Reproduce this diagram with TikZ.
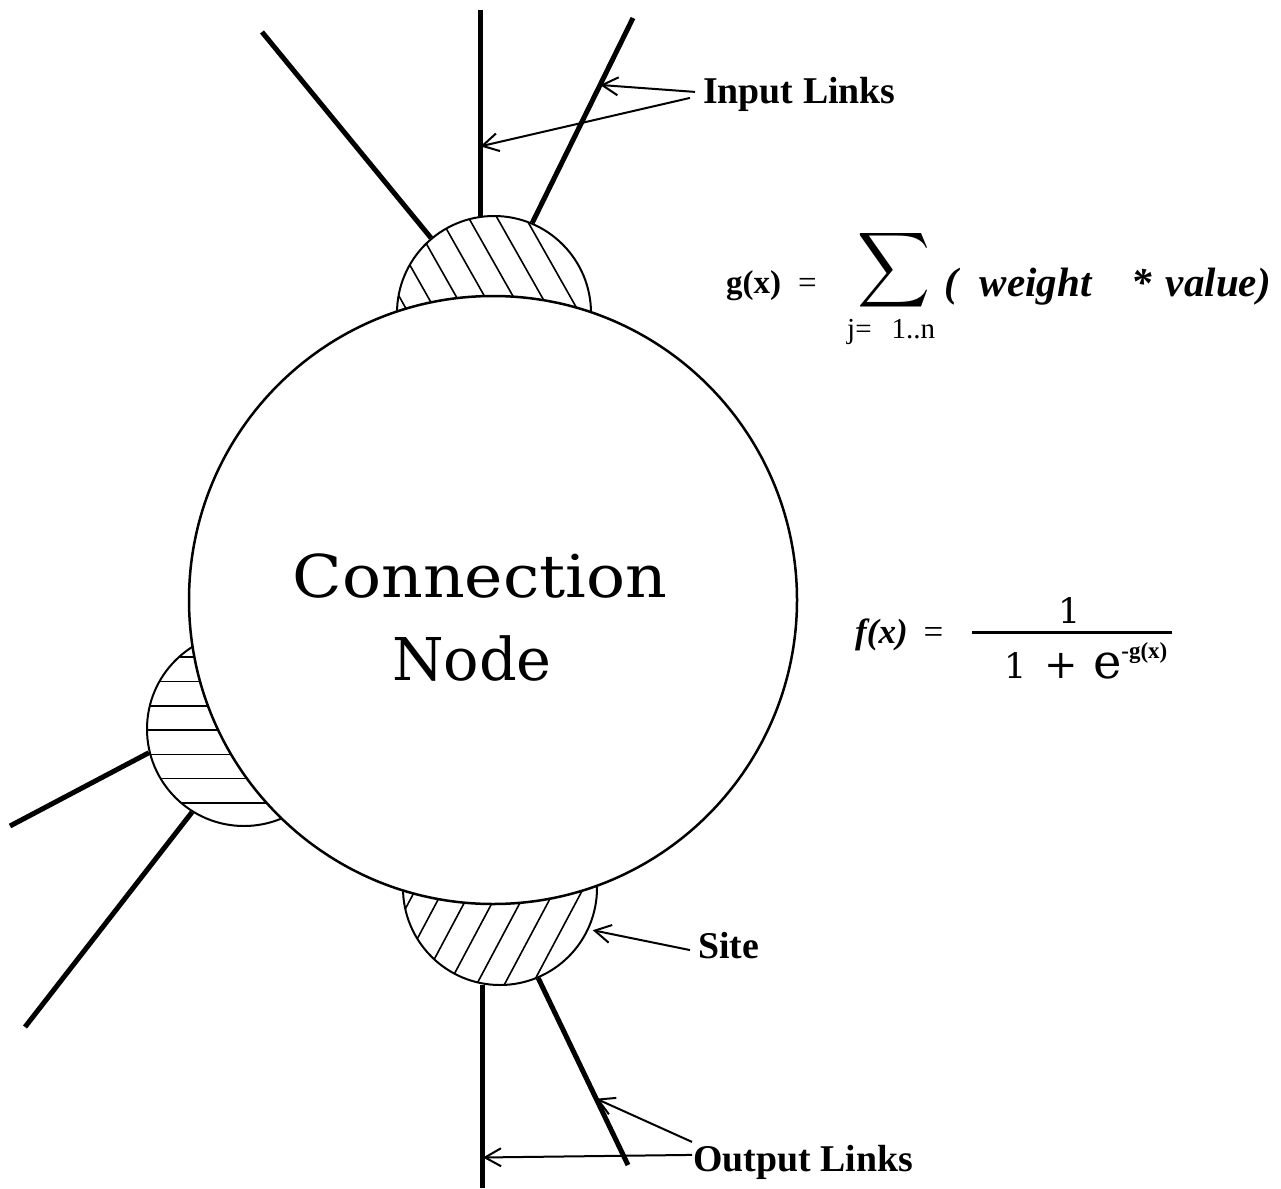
\documentclass[tikz,border=0pt]{standalone}
\usepackage{fontspec}
\usepackage{graphicx}
\usetikzlibrary{arrows.meta,calc}
\setmainfont{Latin Modern Roman}
\newfontfamily\labelfont{Liberation Serif}
\newfontfamily\bigfont{DejaVu Serif}
\begin{document}
\begin{tikzpicture}[x=1pt,y=-1pt,
  link/.style={line width=5pt},
  sitecirc/.style={circle,draw,line width=2pt,minimum size=194pt,inner sep=0pt},
  maincirc/.style={circle,draw,fill=white,line width=2.5pt,minimum size=608pt,inner sep=0pt},
  hatch/.style={line width=1.6pt},
  arr/.style={line width=2pt,-{Straight Barb[length=16pt,width=18pt,line width=2pt]}},
  lab/.style={font=\labelfont\bfseries\fontsize{37.8}{40}\selectfont,inner sep=0pt,anchor=base west},
  bigtext/.style={font=\bigfont\fontsize{59}{64}\selectfont,inner sep=0pt,anchor=base},
  frm/.style={inner sep=0pt,anchor=base west},
]
\useasboundingbox (0,0) rectangle (1281,1188);
\path[fill=white] (0,0) rectangle (1281,1188);

% site circles
\node[sitecirc] (stop) at (494,313) {};
\node[sitecirc] (sleft) at (244,729) {};
\node[sitecirc] (sbot) at (500,888) {};

% hatching of the sites
\begin{scope}[shift={(stop.center)},rotate=-60.5]
  \clip (0,0) circle[radius=97];
  \foreach \k in {-5,...,5} \draw[hatch] (-120,\k*24.8) -- (120,\k*24.8);
\end{scope}
\begin{scope}[shift={(sleft.center)}]
  \clip (0,0) circle[radius=97];
  \foreach \k in {-5,...,5} \draw[hatch] (-120,\k*24.3+1) -- (120,\k*24.3+1);
\end{scope}
\begin{scope}[shift={(sbot.center)},rotate=62]
  \clip (0,0) circle[radius=97];
  \foreach \k in {-5,...,5} \draw[hatch] (-120,\k*24.6) -- (120,\k*24.6);
\end{scope}

% the connection node itself
\node[maincirc] (cnode) at (493,600) {};
\node[bigtext] (cn1) at (480,597) {\scalebox{1.1}[1]{Connection}};
\node[bigtext] (cn2) at (472,680) {Node};

% free ends of the links
\coordinate (in1) at (262,32);
\coordinate (in2) at (stop.98 |- 0,10);
\coordinate (in3) at (633,18);
\coordinate (lf1) at (10,826);
\coordinate (lf2) at (25,1027);
\coordinate (out1) at (sbot.260 |- 0,1188);
\coordinate (out2) at (628,1165);

% links
\draw[link] (stop.130) -- (in1);
\draw[link] (stop.98) -- coordinate[pos=0.338] (tipB) (in2);
\draw[link] (stop.67) -- coordinate[pos=0.673] (tipA) (in3);
\draw[link] (sleft.194) -- (lf1);
\draw[link] (sleft.238) -- (lf2);
\draw[link] (sbot.260) -- coordinate[pos=0.85] (tipD) (out1);
\draw[link] (sbot.293) -- coordinate[pos=0.645] (tipC) (out2);

% callouts
\node[lab] (inl) at (703,103) {Input Links};
\node[lab] (sitel) at (698,958) {Site};
\node[lab] (outl) at (693,1171) {Output Links};

\draw[arr] ($(inl.west)+(-8,-2)$) -- (tipA);
\draw[arr] ($(inl.west)+(-13,4)$) -- (tipB);
\draw[arr,shorten >=4pt] ($(sitel.west)+(-8,5)$) -- (sbot.-25);
\draw[arr] ($(outl.west)+(-1,-20)$) -- (tipC);
\draw[arr] ($(outl.west)+(-1,-7)$) -- (tipD);

% site function
\node[frm] (gx) at (726,293) {\labelfont\fontsize{33}{36}\selectfont\textbf{g(x)}\hspace{17pt}=};
\node[inner sep=0pt,anchor=south west] (sig) at (857,312) {\resizebox*{73pt}{84pt}{$\displaystyle\sum$}};
\node[frm] (wv) at (944,296) {\labelfont\bfseries\itshape\fontsize{41}{44}\selectfont (\hspace{22pt}weight\hspace{40pt}*\hspace{14pt}value)};
\node[frm] (jr) at (847,338) {\labelfont\fontsize{29}{32}\selectfont j=\hspace{20pt}1..n};

% node function
\node[frm] (fx) at (855,643) {\labelfont\fontsize{35}{38}\selectfont\textbf{\textit{f(x)}}\hspace{16pt}=};
\node[inner sep=0pt,anchor=base] (num) at (1070,623) {\bigfont\fontsize{35}{36}\selectfont 1};
\draw[line width=3pt] (972,632) -- (1172,632);
\node[frm] (den) at (1004,678) {\bigfont\fontsize{35}{36}\selectfont 1\hspace{18pt}{\fontsize{40}{40}\selectfont +}\hspace{15pt}{\fontsize{48}{50}\selectfont e}\raisebox{20pt}{\labelfont\bfseries\fontsize{23}{24}\selectfont -g(x)}};
\end{tikzpicture}
\end{document}
